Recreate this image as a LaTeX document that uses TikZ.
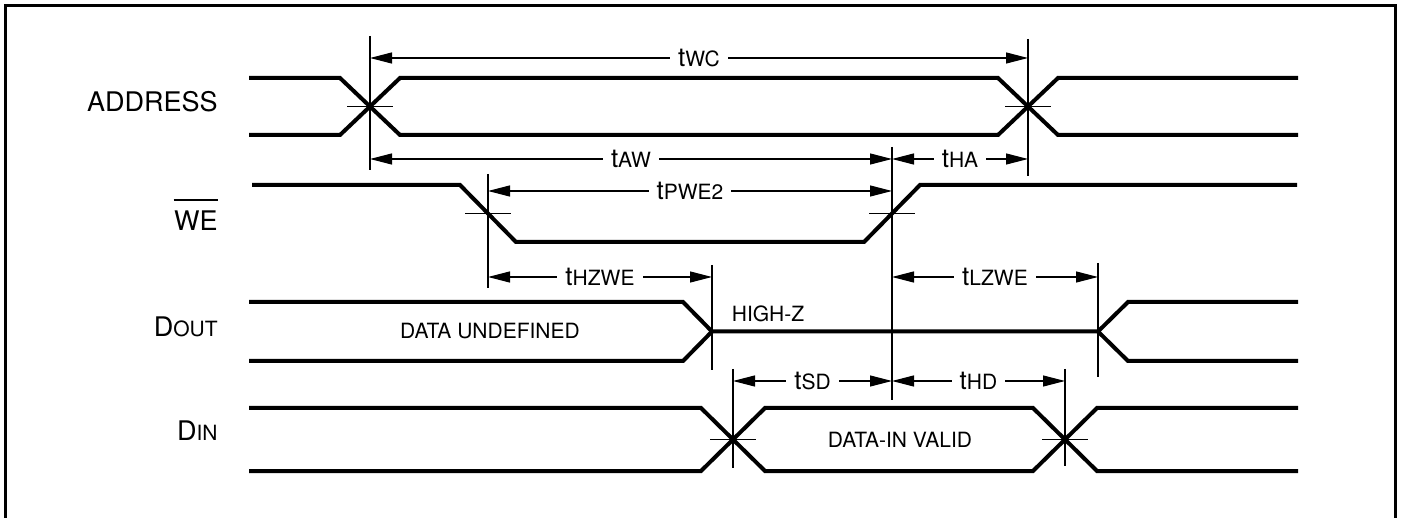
\documentclass[tikz,border=0pt]{standalone}
\usepackage{fontspec}
\setmainfont{TeX Gyre Heros}
\usetikzlibrary{arrows.meta}

\newcommand{\tpar}[1]{t{\fontsize{10.5}{12}\selectfont #1}}
\newcommand{\sclab}[2]{#1{\fontsize{10.5}{12}\selectfont #2}}

\tikzset{
  sig/.style={line width=2pt},
  thinline/.style={line width=0.6pt},
  dim/.style={thinline, {Triangle[length=11pt,width=5.5pt]}-{Triangle[length=11pt,width=5.5pt]}},
  tlab/.style={fill=white, inner xsep=4pt, inner ysep=1pt, font=\fontsize{13}{14}\selectfont},
  siglabel/.style={anchor=base east, inner sep=0pt, font=\fontsize{13.5}{15}\selectfont},
  statetext/.style={inner sep=0pt, font=\fontsize{10.5}{12}\selectfont},
}

\begin{document}
\begin{tikzpicture}[x=0.5pt,y=-0.5pt]
    \useasboundingbox (0,0) rectangle (1404,518);
    \draw[line width=1.5pt] (5,518) -- (5,6) -- (1395,6) -- (1395,518);

    % signal names
    \node[siglabel] (addr) at (218,112) {ADDRESS};
    \node[siglabel] (we)   at (218,231) {WE};
    \draw[thinline] ([yshift=5.5pt]we.north west) -- ([yshift=5.5pt]we.north east);
    \node[siglabel] (dout) at (218,336) {\sclab{D}{OUT}};
    \node[siglabel] (din)  at (218,440) {\sclab{D}{IN}};

    % crossing points
    \coordinate (a1) at (370,106.5);
    \coordinate (a2) at (1028,106.5);
    \coordinate (w1) at (488,213.5);
    \coordinate (w2) at (892,213.5);
    \coordinate (q1) at (712,331.5);
    \coordinate (q2) at (1098,331.5);
    \coordinate (d1) at (733,439.5);
    \coordinate (d2) at (1065,439.5);

    % markers
    \draw[thinline] (a1 |- 0,36)  -- (a1 |- 0,170);
    \draw[thinline] (a2 |- 0,39)  -- (a2 |- 0,176);
    \draw[thinline] (w1 |- 0,174) -- (w1 |- 0,288);
    \draw[thinline] (w2 |- 0,147) -- (w2 |- 0,400);
    \draw[thinline] (q1 |- 0,265) -- (q1 |- 0,370);
    \draw[thinline] (q2 |- 0,263) -- (q2 |- 0,377);
    \draw[thinline] (d1 |- 0,369) -- (d1 |- 0,468);
    \draw[thinline] (d2 |- 0,369) -- (d2 |- 0,466);
    \draw[thinline] ([xshift=-11.5pt]a1) -- ([xshift=11.5pt]a1);
    \draw[thinline] ([xshift=-11.5pt]a2) -- ([xshift=11.5pt]a2);
    \draw[thinline] ([xshift=-11.5pt]w1) -- ([xshift=11.5pt]w1);
    \draw[thinline] ([xshift=-11.5pt]w2) -- ([xshift=11.5pt]w2);
    \draw[thinline] ([xshift=-11.5pt]d1) -- ([xshift=11.5pt]d1);
    \draw[thinline] ([xshift=-11.5pt]d2) -- ([xshift=11.5pt]d2);

    % timing
    \draw[dim] (a1 |- 0,58)  -- node[tlab] {\tpar{WC}}   (a2 |- 0,58);
    \draw[dim] (a1 |- 0,159) -- node[tlab] {\tpar{AW}}   (w2 |- 0,159);
    \draw[dim] (w2 |- 0,159) -- node[tlab] {\tpar{HA}}   (a2 |- 0,159);
    \draw[dim] (w1 |- 0,191) -- node[tlab] {\tpar{PWE2}} (w2 |- 0,191);
    \draw[dim] (w1 |- 0,277) -- node[tlab] {\tpar{HZWE}} (q1 |- 0,277);
    \draw[dim] (w2 |- 0,277) -- node[tlab] {\tpar{LZWE}} (q2 |- 0,277);
    \draw[dim] (d1 |- 0,381) -- node[tlab] {\tpar{SD}}   (w2 |- 0,381);
    \draw[dim] (w2 |- 0,381) -- node[tlab] {\tpar{HD}}   (d2 |- 0,381);

    % waveforms
    \draw[sig] (249,78) -- (340,78) -- (400,135) -- (998,135) -- (1058,78) -- (1298,78);
    \draw[sig] (249,135) -- (340,135) -- (400,78) -- (998,78) -- (1058,135) -- (1298,135);
    \draw[sig] (252,185) -- (460,185) -- (516,242) -- (864,242) -- (920,185) -- (1297,185);
    \draw[sig] (249,302) -- (683,302) -- (q1) -- (q2) -- (1128,302) -- (1298,302);
    \draw[sig] (249,361) -- (683,361) -- (q1);
    \draw[sig] (q2) -- (1128,361) -- (1298,361);
    \draw[sig] (249,408) -- (701,408) -- (765,471) -- (1033,471) -- (1097,408) -- (1298,408);
    \draw[sig] (249,471) -- (701,471) -- (765,408) -- (1033,408) -- (1097,471) -- (1298,471);

    \node[statetext] (undef) at (490,331) {DATA UNDEFINED};
    \node[statetext] (hiz)   at (768,314) {HIGH-Z};
    \node[statetext] (valid) at (900,440) {DATA-IN VALID};
\end{tikzpicture}
\end{document}
